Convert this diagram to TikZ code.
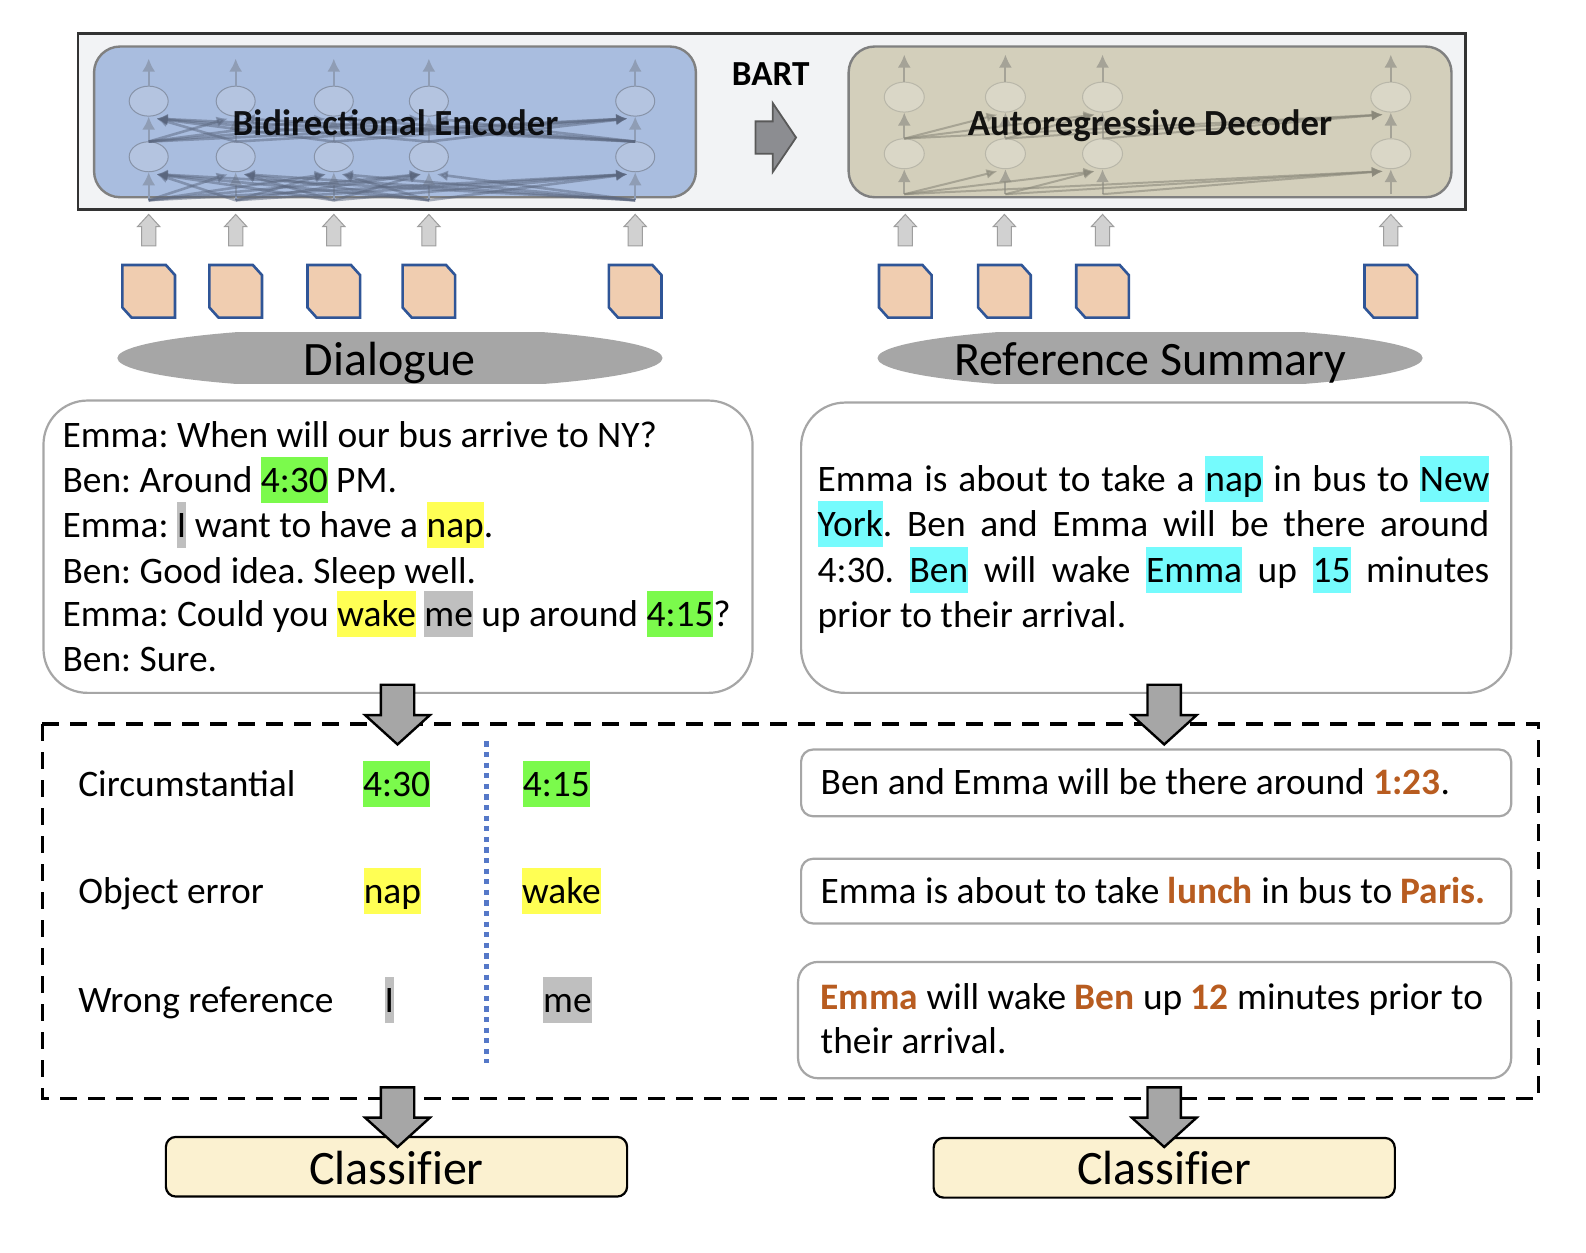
\documentclass[tikz,border=0pt]{standalone}
\usepackage{fontspec}
\setmainfont{Carlito}
\usetikzlibrary{arrows.meta,shapes.geometric}
\definecolor{hlgreen}{HTML}{7BFA4C}
\definecolor{hlyellow}{HTML}{FFFF54}
\definecolor{hlgray}{HTML}{BFBFBF}
\definecolor{hlcyan}{HTML}{75FBFD}
\definecolor{errc}{HTML}{B85C20}
\definecolor{boxedge}{HTML}{A6A6A6}
\definecolor{docblue}{HTML}{2F5597}
\definecolor{docfill}{HTML}{F0CDB0}
\definecolor{neuE}{HTML}{B4C4E0}
\definecolor{neuD}{HTML}{DAD7C7}
\definecolor{netEc}{HTML}{5A667E}
\definecolor{netDc}{HTML}{8A887A}
\definecolor{stemEc}{HTML}{8F9DB5}
\definecolor{stemDc}{HTML}{A5A397}
\definecolor{panelbg}{HTML}{F2F3F5}
\definecolor{encfill}{HTML}{A9BDDF}
\definecolor{decfill}{HTML}{D3CFBB}
\definecolor{clffill}{HTML}{FBF1D0}
\definecolor{dotblue}{HTML}{5578C8}
\newcommand{\hlb}[2]{{\setlength{\fboxsep}{0pt}\colorbox{#1}{\vrule width 0pt height 17.7pt depth 5.3pt #2}}}
\newcommand{\err}[1]{\textcolor{errc}{\textbf{#1}}}
\newcommand{\jline}[1]{\makebox[335.8pt][s]{#1}}
\newcommand{\docshape}[2]{\draw[docs] (#1-26,#2-26) -- (#1+17,#2-26) -- (#1+26,#2-16) -- (#1+26,#2+26) -- (#1-17,#2+26) -- (#1-26,#2+16) -- cycle;}
\newcommand{\uparr}[2]{\draw[uparrow] (#1-7,#2+31) -- (#1-7,#2+12) -- (#1-11,#2+12) -- (#1,#2) -- (#1+11,#2+12) -- (#1+7,#2+12) -- (#1+7,#2+31) -- cycle;}
\newcommand{\downarr}[2]{\draw[bigarrow] (#1-16.5,#2) -- (#1+16.5,#2) -- (#1+16.5,#2+30) -- (#1+32,#2+30) -- (#1,#2+59) -- (#1-32,#2+30) -- (#1-16.5,#2+30) -- cycle;}
\newcommand{\clipoval}[1]{\begin{scope}\clip (#1-270,329) rectangle (#1+270,379);\fill[boxedge] (#1,354) ellipse [x radius=269.5,y radius=31];\end{scope}}
\tikzset{
  x=0.50574pt,y=-0.50574pt,
  panel/.style={rounded corners=13pt,draw=black!50,line width=1.2pt},
  txtbox/.style={rounded corners=#1,draw=boxedge,line width=1.1pt,fill=white},
  txt/.style={anchor=base west,inner sep=0pt,font=\fontsize{18.7pt}{22pt}\selectfont},
  big/.style={inner sep=0pt,font=\fontsize{24pt}{28pt}\selectfont},
  head/.style={inner sep=0pt,font=\fontsize{18.4pt}{22pt}\selectfont\bfseries},
  clf/.style={draw=black,line width=1.1pt,fill=clffill,rounded corners=5pt},
  docs/.style={draw=docblue,fill=docfill,line width=1.3pt,line join=miter},
  uparrow/.style={draw=black!38,fill=black!18,line width=0.5pt},
  bigarrow/.style={draw=black,fill=black!35,line width=1.2pt,line join=miter},
  neuronE/.style={ellipse,draw=black!25!neuE,fill=neuE,minimum width=19.5pt,minimum height=15pt,inner sep=0pt,line width=.5pt},
  neuronD/.style={ellipse,draw=black!15!neuD,fill=neuD,minimum width=20pt,minimum height=15pt,inner sep=0pt,line width=.5pt},
  netE/.style={-{Latex[length=5.5pt,width=5.5pt]},draw=netEc,line width=1.3pt,opacity=.5},
  netD/.style={-{Latex[length=5.5pt,width=5pt]},draw=netDc,line width=1pt,opacity=.6},
  stemE/.style={-{Latex[length=6.5pt,width=6.5pt]},draw=stemEc,line width=1pt},
  stemD/.style={-{Latex[length=6.5pt,width=6.5pt]},draw=stemDc,line width=1pt},
}
\begin{document}
\frenchspacing
\begin{tikzpicture}
\useasboundingbox (0,0) rectangle (1568,1237.8);
\fill[white] (0,0) rectangle (1568,1237.8);
% BART panel
\draw[fill=panelbg,draw=black!80,line width=1.2pt] (77,33) rectangle (1449,207);
\draw[panel,fill=encfill] (93,46) rectangle (688,195);
\draw[panel,fill=decfill] (839,46) rectangle (1435,195);
\node[head,font=\fontsize{17.6pt}{22pt}\selectfont\bfseries,anchor=base] (bart) at (762,85) {BART};
\draw[draw=black!65,fill={rgb,255:red,140;green,141;blue,145},line width=.9pt,line join=miter] (747,120) -- (764,120) -- (764,102) -- (787,136) -- (764,170) -- (764,152) -- (747,152) -- cycle;
% Encoder network
\foreach \n/\x in {1/147,2/233,3/330,4/424,5/628}{
  \node[neuronE] (et\n) at (\x,100) {};
  \node[neuronE] (eb\n) at (\x,155) {};
  \coordinate (etin\n) at (\x,140);
  \coordinate (ebin\n) at (\x,198);
  \coordinate (etout\n) at (\x,58);
  \draw[stemE] (et\n.north) -- (etout\n);
  \draw[stemE] (eb\n.north) -- (et\n.south);
  \draw[stemE] (ebin\n) -- (eb\n.south);
}
\foreach \a in {1,...,5}{\foreach \b in {1,...,5}{
  \ifnum\a<\b
    \draw[netE] (ebin\a) -- ([xshift=-4pt,yshift=-1pt]eb\b.south);
  \fi
  \ifnum\a>\b
    \draw[netE] (ebin\a) -- ([xshift=4pt,yshift=-1pt]eb\b.south);
  \fi
}}
\foreach \a/\b in {1/2,1/3,1/4,1/5,2/5,3/5,4/5}{
  \draw[netE] (etin\a) -- ([xshift=-4pt,yshift=-1pt]et\b.south);
}
\foreach \a/\b in {2/1,3/1,4/1,5/1,5/2,5/3,5/4}{
  \draw[netE] (etin\a) -- ([xshift=4pt,yshift=-1pt]et\b.south);
}
% Decoder network
\foreach \n/\x in {1/894,2/994,3/1090,4/1375}{
  \node[neuronD] (dt\n) at (\x,96) {};
  \node[neuronD] (db\n) at (\x,152) {};
  \coordinate (dtin\n) at (\x,137);
  \coordinate (dbin\n) at (\x,192);
  \coordinate (dtout\n) at (\x,54);
  \draw[stemD] (dt\n.north) -- (dtout\n);
  \draw[stemD] (db\n.north) -- (dt\n.south);
  \draw[stemD] (dbin\n) -- (db\n.south);
}
\foreach \a/\b in {1/2,1/3,1/4,2/3,2/4,3/4}{
  \draw[netD] (dbin\a) -- ([xshift=-4pt,yshift=-1pt]db\b.south);
  \draw[netD] (dtin\a) -- ([xshift=-4pt,yshift=-1pt]dt\b.south);
}
\node[head,opacity=.9,anchor=base] (enclabel) at (391,134) {Bidirectional Encoder};
\node[head,opacity=.9,anchor=base] (declabel) at (1137,134) {Autoregressive Decoder};
% Tokens
\foreach \x in {147,233,330,424,628}{\uparr{\x}{212}\docshape{\x}{288}}
\foreach \x in {895,993,1090,1375}{\uparr{\x}{212}\docshape{\x}{288}}
% Ovals
\clipoval{385.5}
\node[big,anchor=base] (dialoguet) at (385,371) {Dialogue};
\clipoval{1137}
\node[big,anchor=base] (refsumt) at (1137,371) {Reference Summary};
% Text boxes
\draw[txtbox=22pt] (43,396) rectangle (744,685);
\draw[txtbox=22pt] (792,398) rectangle (1494,685);
\node[txt] (d1) at (61.5,442) {Emma: When will our bus arrive to NY?};
\node[txt] (d2) at (61.5,487) {Ben: Around \hlb{hlgreen}{4:30} PM.};
\node[txt] (d3) at (61.5,531) {Emma: \hlb{hlgray}{I} want to have a \hlb{hlyellow}{nap}.};
\node[txt] (d4) at (61.5,577) {Ben: Good idea. Sleep well.};
\node[txt] (d5) at (61.5,619) {Emma: Could you \hlb{hlyellow}{wake} \hlb{hlgray}{me} up around \hlb{hlgreen}{4:15}?};
\node[txt] (d6) at (61.5,664) {Ben: Sure.};
\node[txt] (r1) at (808,486) {\jline{Emma is about to take a \hlb{hlcyan}{nap} in bus to \hlb{hlcyan}{New}}};
\node[txt] (r2) at (808,530) {\jline{\hlb{hlcyan}{York}. Ben and Emma will be there around}};
\node[txt] (r3) at (808,576) {\jline{4:30. \hlb{hlcyan}{Ben} will wake \hlb{hlcyan}{Emma} up \hlb{hlcyan}{15} minutes}};
\node[txt] (r4) at (808,620) {prior to their arrival.};
% Dashed region
\draw[black,line width=1.9pt,dash pattern=on 8.3pt off 5.7pt] (42,716) rectangle (1521,1086);
\coordinate (dotA) at (481,733);
\coordinate (dotB) at (481,1051);
\draw[dotblue,line width=2.6pt,dash pattern=on 2.6pt off 2.7pt] (dotA) -- (dotB);
\node[txt] (l1) at (77,787) {Circumstantial};
\node[txt] (l2) at (77,893) {Object error};
\node[txt] (l3) at (77,1001) {Wrong reference};
\node[txt,anchor=base] (a1) at (392,787) {\hlb{hlgreen}{4:30}};
\node[txt,anchor=base] (b1) at (550,787) {\hlb{hlgreen}{4:15}};
\node[txt,anchor=base] (a2) at (388,893) {\hlb{hlyellow}{nap}};
\node[txt,anchor=base] (b2) at (555,893) {\hlb{hlyellow}{wake}};
\node[txt,anchor=base] (a3) at (385,1001) {\hlb{hlgray}{I}};
\node[txt,anchor=base] (b3) at (561,1001) {\hlb{hlgray}{me}};
\draw[txtbox=6pt] (792,741) rectangle (1494,807);
\draw[txtbox=6pt] (792,849) rectangle (1494,913);
\draw[txtbox=10pt] (789,951) rectangle (1494,1066);
\node[txt] (s1) at (811,785) {Ben and Emma will be there around \err{1:23}.};
\node[txt] (s2) at (811,893) {Emma is about to take \err{lunch} in bus to \err{Paris.}};
\node[txt] (s3) at (811,998) {\err{Emma} will wake \err{Ben} up \err{12} minutes prior to};
\node[txt] (s4) at (811,1042) {their arrival.};
% Classifiers
\draw[clf] (164,1124) rectangle (620,1183);
\draw[clf] (923,1125) rectangle (1379,1184);
\node[big,anchor=base] (c1) at (392,1171) {Classif\hbox{}ier};
\node[big,anchor=base] (c2) at (1151,1171) {Classif\hbox{}ier};
% Block arrows
\downarr{393}{677}
\downarr{1151}{677}
\downarr{393}{1075}
\downarr{1151}{1075}
\end{tikzpicture}
\end{document}
